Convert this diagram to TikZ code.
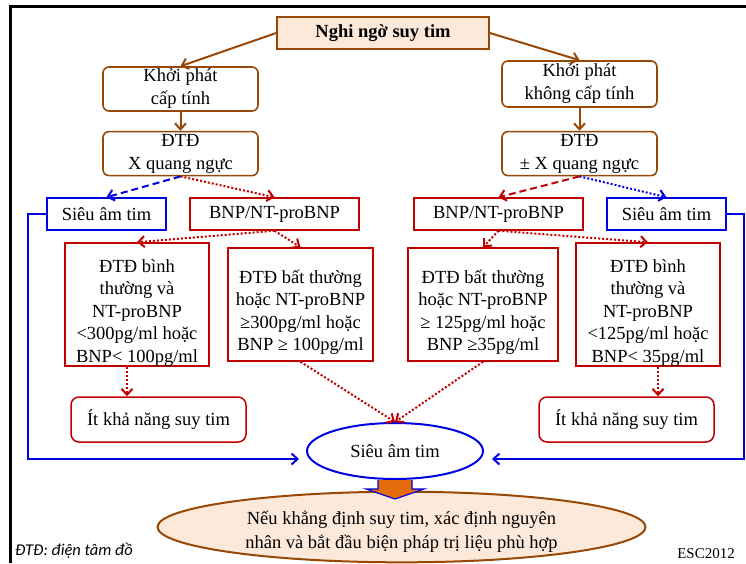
\documentclass[tikz,border=0pt]{standalone}
\usepackage{fontspec}
\setmainfont{Liberation Serif}
\newfontfamily\notefont{Carlito}
\usetikzlibrary{arrows.meta,positioning,shapes.geometric}
\definecolor{hfbrown}{RGB}{152,72,6}
\definecolor{hfpeach}{RGB}{253,233,217}
\definecolor{hfred}{RGB}{192,0,0}
\definecolor{hfblue}{RGB}{0,0,225}
\definecolor{hforange}{RGB}{228,108,10}
\newcommand{\hfstrut}{\rule{0pt}{29pt}}
\tikzset{
  titlebox/.style={draw=hfbrown, line width=1.6pt, fill=hfpeach,
    minimum width=212pt, minimum height=32pt, inner sep=0pt},
  onsetbox/.style={draw=hfbrown, line width=1.6pt, rounded corners=6pt,
    align=center, minimum width=155pt, minimum height=44pt, inner sep=0pt},
  testbox/.style={draw=hfred, line width=1.5pt, align=center,
    minimum height=32pt, inner sep=0pt},
  echobox/.style={draw=hfblue, line width=1.5pt, align=center,
    minimum width=119pt, minimum height=32pt, inner sep=0pt},
  resultbox/.style={draw=hfred, line width=1.5pt, align=center,
    minimum height=113pt, inner sep=0pt,
    font=\fontsize{18.5}{22.5}\selectfont},
  unlikelybox/.style={draw=hfred, line width=1.5pt, rounded corners=8pt,
    minimum width=175pt, minimum height=45pt, inner sep=0pt},
  brownflow/.style={-{Straight Barb[length=6pt,width=11pt]}, line width=2pt, draw=hfbrown},
  reddots/.style={-{Straight Barb[length=6pt,width=11pt]}, line width=2pt, draw=hfred,
    dash pattern=on 2pt off 2pt},
  reddash/.style={-{Straight Barb[length=6pt,width=11pt]}, line width=2pt, draw=hfred,
    dash pattern=on 7pt off 4pt},
  bluedots/.style={-{Straight Barb[length=6pt,width=11pt]}, line width=2pt, draw=hfblue,
    dash pattern=on 2pt off 2pt},
  bluedash/.style={-{Straight Barb[length=6pt,width=11pt]}, line width=2pt, draw=hfblue,
    dash pattern=on 7pt off 4pt},
  blueflow/.style={-{Straight Barb[length=6pt,width=11pt]}, line width=2pt, draw=hfblue}
}

\begin{document}
\begin{tikzpicture}[x=1pt, y=-1pt, font=\fontsize{18.5}{23}\selectfont]
    \useasboundingbox (0,0) rectangle (746,563);
    % khung
    \draw[line width=3pt] (10,563) -- (10,6) -- (746,6);

    \node[titlebox] (nghi) at (383,33) {\textbf{Nghi ngờ suy tim}};
    % nhanh trai
    \node[onsetbox] (cap) at (180.5,89) {Khởi phát\\cấp tính};
    \node[onsetbox, below=19pt of cap] (dtdl) {ĐTĐ\\X quang ngực};
    \node[echobox] (sal) at (106.5,214) {Siêu âm tim};
    \node[testbox, minimum width=169pt] (bnpl) at (274.5,214) {BNP/NT-proBNP};
    \node[resultbox, minimum width=144pt] (thapl) at (137,304.5)
      {\hfstrut ĐTĐ bình\\thường và\\NT-proBNP\\<300pg/ml hoặc\\BNP< 100pg/ml};
    \node[resultbox, minimum width=145pt] (caol) at (300.5,304.5)
      {\hfstrut ĐTĐ bất thường\\hoặc NT-proBNP\\≥300pg/ml hoặc\\BNP ≥ 100pg/ml};
    \node[unlikelybox] (itl) at (158.5,419.5) {Ít khả năng suy tim};
    % nhanh phai
    \node[onsetbox, minimum height=46pt] (khong) at (579.5,84) {Khởi phát\\không cấp tính};
    \node[onsetbox, below=23pt of khong] (dtdr) {ĐTĐ\\± X quang ngực};
    \node[testbox, minimum width=169pt] (bnpr) at (498.5,214) {BNP/NT-proBNP};
    \node[echobox] (sar) at (666.5,214) {Siêu âm tim};
    \node[resultbox, minimum width=150pt] (caor) at (483,304.5)
      {\hfstrut ĐTĐ bất thường\\hoặc NT-proBNP\\≥ 125pg/ml hoặc\\BNP ≥35pg/ml};
    \node[resultbox, minimum width=144pt] (thapr) at (648,304.5)
      {\hfstrut ĐTĐ bình\\thường và\\NT-proBNP\\<125pg/ml hoặc\\BNP< 35pg/ml};
    \node[unlikelybox] (itr) at (626.5,419.5) {Ít khả năng suy tim};
    % ket qua
    \node[ellipse, draw=hfblue, line width=2pt, fill=white, minimum width=176pt,
      minimum height=56pt, inner sep=0pt] (sieuam) at (395,451) {Siêu âm tim};
    \node[ellipse, draw=hfbrown, line width=2pt, fill=hfpeach, minimum width=488pt,
      minimum height=58pt, inner sep=0pt, align=center,
      font=\fontsize{18.5}{24}\selectfont] (ketluan) at (401.5,527)
      {\rule{0pt}{22pt}Nếu khẳng định suy tim, xác định nguyên\\nhân và bắt đầu biện pháp trị liệu phù hợp};

    \node[anchor=south west, inner sep=0pt, font=\notefont\itshape\fontsize{16.5}{18}\selectfont]
      (ghichu) at (15,558) {ĐTĐ: điện tâm đồ};
    \node[anchor=south east, inner sep=0pt, font=\fontsize{15}{17}\selectfont]
      (nguon) at (735,559) {ESC2012};

    \draw[brownflow] (nghi.west) -- (cap.north);
    \draw[brownflow] (nghi.east) -- (khong.north);
    \draw[brownflow] (cap) -- (dtdl);
    \draw[brownflow] (khong) -- (dtdr);

    \draw[bluedash] (dtdl.south) -- (sal.north);
    \draw[reddots] (dtdl.south) -- (bnpl.north);
    \draw[reddash] (dtdr.south) -- (bnpr.north);
    \draw[bluedots] (dtdr.south) -- (sar.north);

    \draw[reddots] (bnpl.south) -- (thapl.north);
    \draw[reddots] (bnpl.south) -- (caol.north);
    \draw[reddots] (bnpr.south) -- (caor.north);
    \draw[reddots] (bnpr.south) -- (thapr.north);

    \draw[reddots] ([xshift=-10pt]thapl.south) -- ([xshift=-10pt]thapl.south |- itl.north);
    \draw[reddots] ([xshift=10pt]thapr.south) -- ([xshift=10pt]thapr.south |- itr.north);
    \draw[reddots] (caol.south) -- (sieuam.north);
    \draw[reddots] (caor.south) -- (sieuam.north);

    \coordinate (vaotrai) at ([xshift=-7pt, yshift=-8pt]sieuam.west);
    \coordinate (vaophai) at ([xshift=8pt, yshift=-8pt]sieuam.east);
    \draw[blueflow] (sal.west) -- (28,214) |- (vaotrai);
    \draw[blueflow] (sar.east) -- (744,214) |- (vaophai);

    % mui ten cam
    \draw[draw=hfblue, fill=hforange, line width=1.2pt]
      ([xshift=-17pt]sieuam.south) -- ++(0,9) -- ++(-12,0) -- ([yshift=-19pt]sieuam.south)
      -- ([xshift=29pt, yshift=-9pt]sieuam.south) -- ++(-12,0) -- ([xshift=17pt]sieuam.south);
\end{tikzpicture}
\end{document}
